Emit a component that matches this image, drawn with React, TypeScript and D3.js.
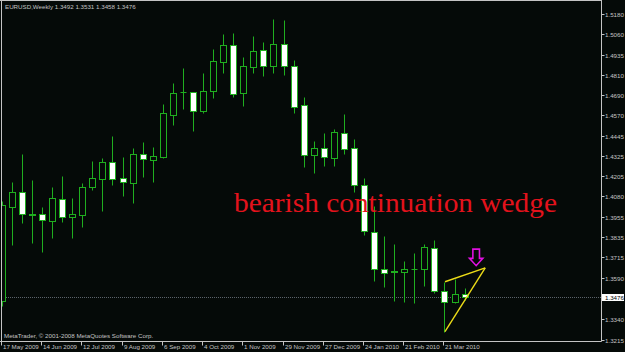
import React from 'react';
import * as d3 from 'd3';

const W = 625;
const H = 352;

const titleText = 'EURUSD,Weekly  1.3492 1.3531 1.3458 1.3476';
const copyrightText = 'MetaTrader, \u00a9 2001-2008 MetaQuotes Software Corp.';
const annotationText = 'bearish continuation wedge';

// Weekly OHLC, bar 0 = week of 17 May 2009
const opens = [
  1.3450, 1.4018, 1.4105, 1.3968, 1.3973, 1.3934, 1.4065, 1.3958, 1.3970, 1.4135,
  1.4185, 1.4286, 1.4193, 1.4163, 1.4334, 1.4300, 1.4320, 1.4569, 1.4708, 1.4708,
  1.4597, 1.4718, 1.4892, 1.4993, 1.4702, 1.4862, 1.4961, 1.4867, 1.4997, 1.4867,
  1.4631, 1.4332, 1.4372, 1.4312, 1.4464, 1.4370, 1.4147, 1.3868, 1.3641, 1.3623,
  1.3623, 1.3640, 1.3641, 1.3771, 1.3510, 1.3442, 1.3492,
];
const highs = [
  1.4053, 1.4169, 1.4336, 1.4179, 1.4015, 1.4135, 1.4203, 1.4071, 1.4163, 1.4294,
  1.4310, 1.4445, 1.4320, 1.4374, 1.4407, 1.4378, 1.4638, 1.4766, 1.4856, 1.4711,
  1.4823, 1.4969, 1.5058, 1.5064, 1.4919, 1.5047, 1.5013, 1.5150, 1.5144, 1.4903,
  1.4681, 1.4416, 1.4461, 1.4485, 1.4577, 1.4425, 1.4190, 1.4020, 1.3842, 1.3792,
  1.3691, 1.3738, 1.3794, 1.3818, 1.3566, 1.3581, 1.3531,
];
const lows = [
  1.3422, 1.3788, 1.3922, 1.3801, 1.3747, 1.3832, 1.3928, 1.3828, 1.3894, 1.4119,
  1.3994, 1.4149, 1.4083, 1.4043, 1.4199, 1.4169, 1.4315, 1.4513, 1.4609, 1.4477,
  1.4581, 1.4675, 1.4826, 1.4681, 1.4625, 1.4823, 1.4806, 1.4826, 1.4810, 1.4581,
  1.4256, 1.4220, 1.4266, 1.4266, 1.4334, 1.4107, 1.3848, 1.3572, 1.3533, 1.3452,
  1.3446, 1.3440, 1.3540, 1.3496, 1.3265, 1.3436, 1.3458,
];
const closes = [
  1.4029, 1.4105, 1.3974, 1.3973, 1.3938, 1.4069, 1.3958, 1.3973, 1.4135, 1.4190,
  1.4286, 1.4185, 1.4166, 1.4336, 1.4304, 1.4322, 1.4581, 1.4704, 1.4708, 1.4597,
  1.4716, 1.4895, 1.4991, 1.4700, 1.4868, 1.4955, 1.4868, 1.4997, 1.4868, 1.4621,
  1.4328, 1.4374, 1.4316, 1.4467, 1.4364, 1.4149, 1.3872, 1.3641, 1.3617, 1.3633,
  1.3641, 1.3642, 1.3774, 1.3510, 1.3442, 1.3490, 1.3476,
];

const dateLabels = [
  '17 May 2009', '14 Jun 2009', '12 Jul 2009', '9 Aug 2009', '6 Sep 2009', '4 Oct 2009',
  '1 Nov 2009', '29 Nov 2009', '27 Dec 2009', '24 Jan 2010', '21 Feb 2010', '21 Mar 2010',
];
const dateLabelBars = [0, 4, 8, 12, 16, 20, 24, 28, 32, 36, 40, 44];

const priceTickLabels = [
  '1.5180', '1.5060', '1.4935', '1.4810', '1.4690', '1.4570', '1.4445', '1.4325',
  '1.4205', '1.4080', '1.3955', '1.3835', '1.3715', '1.3590', '1.3340', '1.3215',
];
const lastPrice = 1.3476;

// wedge: [bar, price]
const wedgeUpperBars = [44, 48];
const wedgeUpperPrices = [1.3566, 1.365];
const wedgeLowerBars = [44, 48];
const wedgeLowerPrices = [1.3265, 1.365];
const arrowBar = 47.1;
const arrowTopPrice = 1.3763;
const arrowTipPrice = 1.3663;

const BG = '#050a08';
const GREEN = '#1fae1f';
const AXIS = '#c4c4c4';
const FONT = '"Liberation Sans", Arial, sans-serif';

export default function App() {
  const plotLeft = 1.5;
  const plotRight = 601.5;
  const plotTop = 0.5;
  const plotBottom = 341.5;

  const x = d3.scaleLinear().domain([0, 46]).range([2.3, 465.1]);
  const y = d3.scaleLinear().domain([1.3215, 1.518]).range([340, 14]);

  const snap = (v: number) => Math.round(v) + 0.5;

  const candles = opens.map((o, i) => {
    const c = closes[i];
    const cx = snap(x(i) - 0.5);
    const yH = snap(y(highs[i]));
    const yL = snap(y(lows[i]));
    const yO = snap(y(o));
    const yC = snap(y(c));
    const top = Math.min(yO, yC);
    const bot = Math.max(yO, yC);
    const bear = c < o;
    return (
      <g key={i}>
        <line x1={cx} x2={cx} y1={yH} y2={yL} stroke={GREEN} strokeWidth={1} />
        {bot - top < 1 ? (
          <line x1={cx - 3} x2={cx + 3} y1={top} y2={top} stroke={GREEN} strokeWidth={1} />
        ) : (
          <rect
            x={cx - 3}
            y={top}
            width={6}
            height={bot - top}
            fill={bear ? '#ffffff' : BG}
            stroke={GREEN}
            strokeWidth={1}
          />
        )}
      </g>
    );
  });

  const lineGen = d3
    .line<[number, number]>()
    .x((d) => x(d[0]))
    .y((d) => y(d[1]));
  const upperPts: [number, number][] = wedgeUpperBars.map((b, k) => [b, wedgeUpperPrices[k]]);
  const lowerPts: [number, number][] = wedgeLowerBars.map((b, k) => [b, wedgeLowerPrices[k]]);

  // hollow down arrow
  const ax = x(arrowBar);
  const aTop = y(arrowTopPrice);
  const aTip = y(arrowTipPrice);
  const aH = aTip - aTop;
  const shaftW = 3.3;
  const headW = 6.7;
  const headY = aTop + aH * 0.56;
  const arrowPath = [
    [ax - shaftW, aTop],
    [ax + shaftW, aTop],
    [ax + shaftW, headY],
    [ax + headW, headY],
    [ax, aTip],
    [ax - headW, headY],
    [ax - shaftW, headY],
  ]
    .map((p, k) => (k === 0 ? 'M' : 'L') + p[0] + ',' + p[1])
    .join(' ') + ' Z';

  const yLast = snap(y(lastPrice));

  return (
    <svg
      width={W}
      height={H}
      style={{ position: 'absolute', left: 0, top: 0, display: 'block' }}
    >
      <rect x={0} y={0} width={W} height={H} fill={BG} />
      <defs>
        <clipPath id="plot">
          <rect x={2} y={1} width={plotRight - 2} height={plotBottom - 1} />
        </clipPath>
      </defs>

      {/* current price line */}
      <line
        x1={2}
        x2={plotRight}
        y1={yLast}
        y2={yLast}
        stroke="#5c636b"
        strokeWidth={1}
        strokeDasharray="1,1"
      />

      <g clipPath="url(#plot)">{candles}</g>

      {/* wedge */}
      <g clipPath="url(#plot)">
        <path d={lineGen(upperPts) || ''} stroke="#ecdc18" strokeWidth={1.4} fill="none" />
        <path d={lineGen(lowerPts) || ''} stroke="#ecdc18" strokeWidth={1.4} fill="none" />
        <path d={arrowPath} fill="none" stroke="#e010e0" strokeWidth={1.6} strokeLinejoin="miter" />
      </g>

      {/* annotation */}
      <text
        x={234}
        y={211.5}
        fill="#e3121c"
        fontFamily='"Liberation Serif", "Times New Roman", serif'
        fontSize={27.5}
        textLength={323}
        lengthAdjust="spacingAndGlyphs"
      >
        {annotationText}
      </text>

      {/* frame */}
      <line x1={0} x2={plotRight} y1={plotTop} y2={plotTop} stroke={AXIS} strokeWidth={1} />
      <line x1={plotLeft} x2={plotLeft} y1={0} y2={plotBottom} stroke={AXIS} strokeWidth={1} />
      <line x1={plotRight} x2={plotRight} y1={0} y2={plotBottom} stroke={AXIS} strokeWidth={1} />
      <line x1={0} x2={plotRight} y1={plotBottom} y2={plotBottom} stroke={AXIS} strokeWidth={1} />

      {/* right axis */}
      {priceTickLabels.map((lab) => {
        const ty = snap(y(parseFloat(lab)));
        return (
          <g key={lab}>
            <line x1={plotRight} x2={plotRight + 3} y1={ty} y2={ty} stroke={AXIS} strokeWidth={1} />
            <text
              x={605}
              y={ty + 2.2}
              fill={AXIS}
              fontFamily={FONT}
              fontSize={6.2}
            >
              {lab}
            </text>
          </g>
        );
      })}
      <rect x={602} y={yLast - 3.5} width={22} height={7} fill="#ffffff" />
      <text x={605} y={yLast + 2.2} fill="#000000" fontFamily={FONT} fontSize={6.2}>
        {lastPrice.toFixed(4)}
      </text>

      {/* bottom axis */}
      {dateLabels.map((lab, k) => {
        const bx = snap(x(dateLabelBars[k]) - 0.5);
        return (
          <g key={lab}>
            <line x1={bx - 1} x2={bx - 1} y1={plotBottom} y2={plotBottom + 4} stroke={AXIS} strokeWidth={1} />
            <text x={bx + 0.5} y={349} fill={AXIS} fontFamily={FONT} fontSize={6.2}>
              {lab}
            </text>
          </g>
        );
      })}

      <text x={5} y={8.5} fill={AXIS} fontFamily={FONT} fontSize={6.2}>
        {titleText}
      </text>
      <text x={4} y={337.5} fill={AXIS} fontFamily={FONT} fontSize={6.2}>
        {copyrightText}
      </text>
    </svg>
  );
}
